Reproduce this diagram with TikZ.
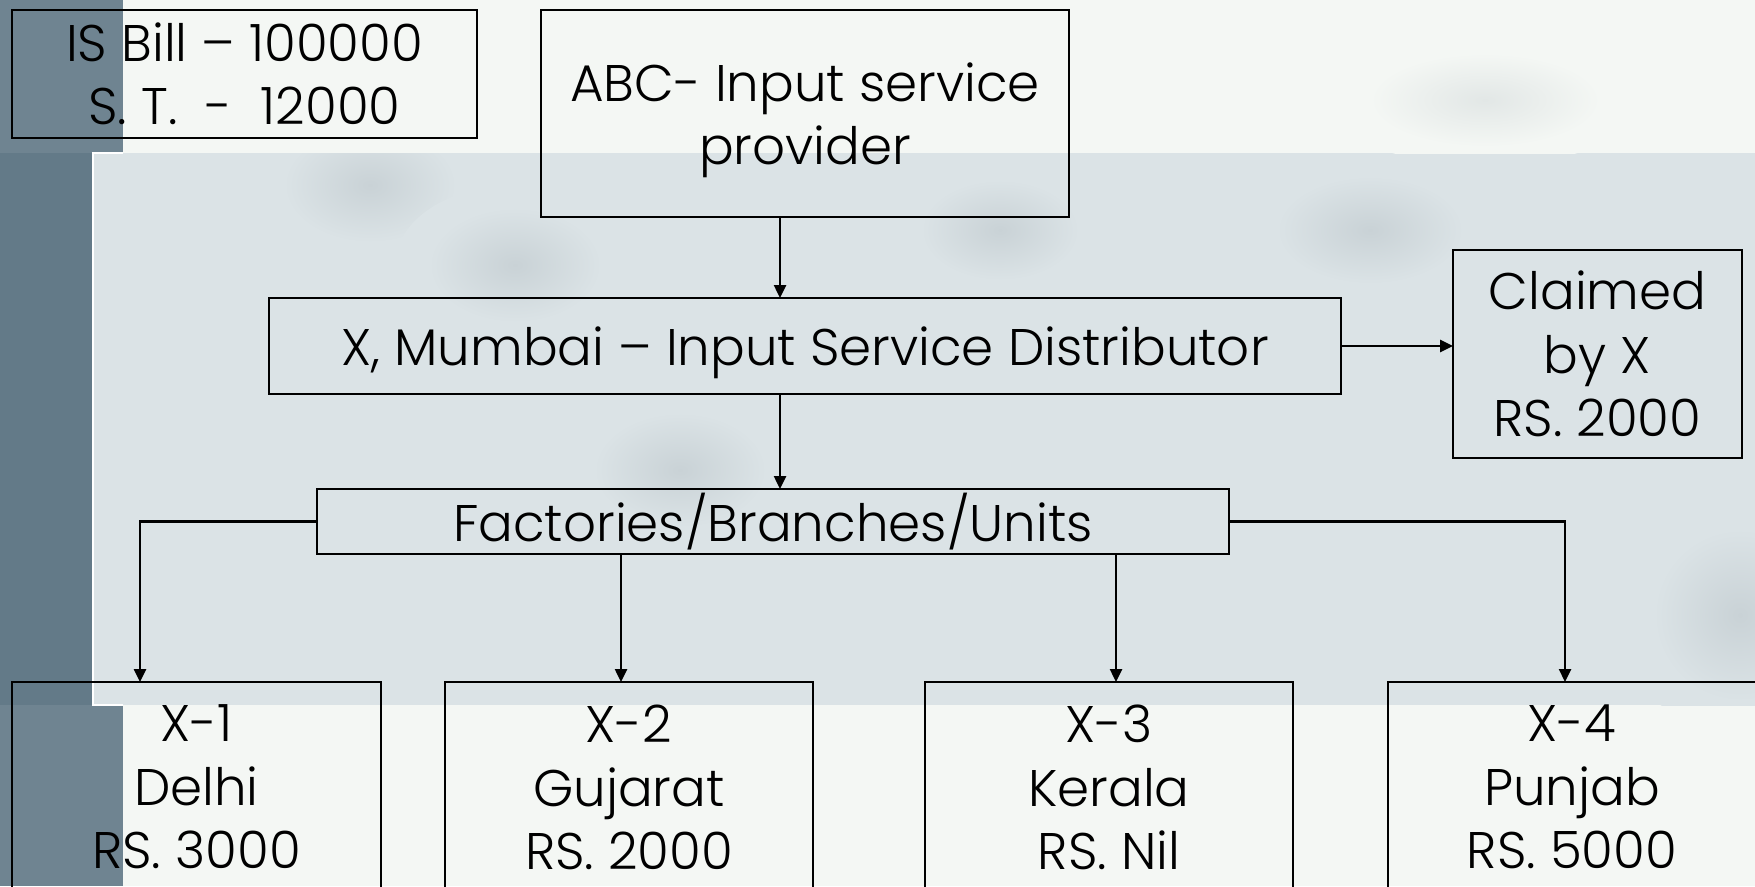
\documentclass[tikz,border=0pt]{standalone}
\usepackage{fontspec}
\IfFontExistsTF{Poppins Light}{\setmainfont{Poppins Light}}{\setmainfont{Poppins}}
\usetikzlibrary{arrows.meta,calc}
\definecolor{bgpale}{HTML}{F4F7F4}
\definecolor{bgband}{HTML}{DBE3E6}
\definecolor{darkstrip}{HTML}{6F8491}
\definecolor{darkmid}{HTML}{637A88}
\definecolor{blob}{HTML}{C9D2D6}
\definecolor{blobtop}{HTML}{E2E7E6}
\pgfdeclareradialshading{softband}{\pgfpoint{0bp}{0bp}}{color(0bp)=(blob); color(18bp)=(bgband); color(25bp)=(bgband); color(50bp)=(bgband)}
\pgfdeclareradialshading{softtop}{\pgfpoint{0bp}{0bp}}{color(0bp)=(blobtop); color(18bp)=(bgpale); color(25bp)=(bgpale); color(50bp)=(bgpale)}
\newcommand{\bigtext}{\fontsize{51.5}{63.5}\selectfont}
\tikzset{
  box/.style={draw=black, line width=2.7pt, inner sep=0pt, outer sep=0pt, align=center, font=\bigtext},
  txt/.style={inner sep=0pt, outer sep=0pt, align=center, font=\bigtext},
  arr/.style={draw=black, line width=2.5pt, -{Triangle[length=13pt,width=12pt]}},
  smudge/.style={shading=softband},
  smudgetop/.style={shading=softtop},
}
\begin{document}
\begin{tikzpicture}[x=1pt,y=-1pt]
\useasboundingbox (0,0) rectangle (1755,886);
\clip (0,0) rectangle (1755,886);
% background
\fill[bgpale] (0,0) rectangle (1755,886);
\fill[bgband] (0,153) rectangle (1755,705);
\begin{scope}
\clip (0,0) rectangle (1755,153);
\shade[smudgetop] (1485,100) ellipse (160 and 65);
\end{scope}
\begin{scope}
\clip (0,153) rectangle (1755,705);
\shade[smudge] (370,185) ellipse (120 and 80);
\shade[smudge] (515,265) ellipse (120 and 80);
\shade[smudge] (680,470) ellipse (120 and 80);
\shade[smudge] (1370,230) ellipse (130 and 75);
\shade[smudge] (1740,615) ellipse (120 and 120);
\shade[smudge] (1000,230) ellipse (110 and 70);
\end{scope}
\fill[darkstrip] (0,0) rectangle (123,153);
\fill[darkstrip] (0,705) rectangle (123,886);
\fill[darkmid] (0,153) rectangle (93,705);
\draw[white, line width=2pt] (123,153) -- (93,153) -- (93,705) -- (123,705);
% nodes
\node[box, minimum width=465, minimum height=128] (is) at (244.5,74) {IS Bill -- 100000\\S. T.~~-~~12000};
\node[box, minimum width=528, minimum height=207] (abc) at (805,113.5) {};
\node[txt] (abct) at ($(abc.center)+(0,7)$) {ABC- Input service\\provider};
\node[box, minimum width=1072, minimum height=96] (mum) at (805,346) {};
\node[txt] (mumt) at ($(mum.center)+(0,7)$) {X, Mumbai -- Input Service Distributor};
\node[box, minimum width=289, minimum height=208] (clm) at (1597.5,354) {Claimed\\by X\\RS. 2000};
\node[box, minimum width=912, minimum height=65] (fac) at (773,521.5) {Factories/Branches/Units};
\node[box, minimum width=369, minimum height=260, anchor=north] (x1) at (196.5,682) {};
\node[box, minimum width=368, minimum height=260, anchor=north] (x2) at (629,682) {};
\node[box, minimum width=368, minimum height=260, anchor=north] (x3) at (1109,682) {};
\node[box, minimum width=368, minimum height=260, anchor=north] (x4) at (1572,682) {};
\node[txt, anchor=north] (x1t) at ($(x1.north)+(0,23)$) {X-1\\Delhi\\RS. 3000};
\node[txt, anchor=north] (x2t) at ($(x2.north)+(0,23)$) {X-2\\Gujarat\\RS. 2000};
\node[txt, anchor=north] (x3t) at ($(x3.north)+(0,23)$) {X-3\\Kerala\\RS. Nil};
\node[txt, anchor=north] (x4t) at ($(x4.north)+(0,23)$) {X-4\\Punjab\\RS. 5000};
% connector x positions
\coordinate (vmid) at (780,0);
\coordinate (v1) at (140,0);
\coordinate (v2) at (621,0);
\coordinate (v3) at (1116,0);
\coordinate (v4) at (1565,0);
% connectors
\draw[arr] (abc.south -| vmid) -- (mum.north -| vmid);
\draw[arr] (mum.south -| vmid) -- (fac.north -| vmid);
\draw[arr] (mum.east) -- (clm.west |- mum.east);
\draw[arr] (fac.west) -| (x1.north -| v1);
\draw[arr] (fac.south -| v2) -- (x2.north -| v2);
\draw[arr] (fac.south -| v3) -- (x3.north -| v3);
\draw[arr] (fac.east) -| (x4.north -| v4);
\end{tikzpicture}
\end{document}
